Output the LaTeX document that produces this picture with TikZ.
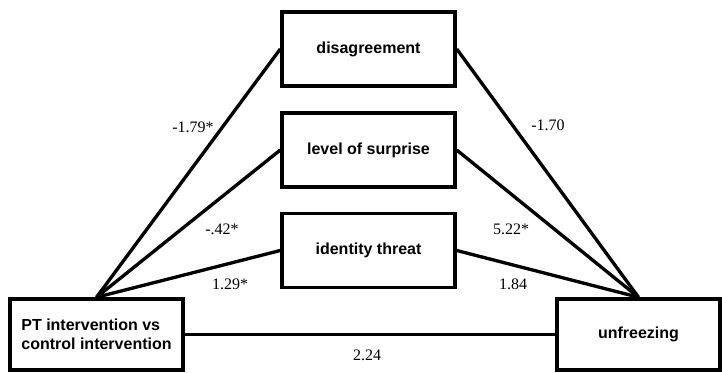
\documentclass[tikz,border=0pt]{standalone}
\usepackage{fontspec}
\setmainfont{Liberation Serif}
\setsansfont{Liberation Sans}
\usepackage{xcolor}

\tikzset{
  varbox/.style={draw, line width=2.6pt, inner sep=0pt, minimum width=129.75pt,
    minimum height=55.5pt, font=\fontsize{12}{14}\selectfont\sffamily\bfseries},
  path/.style={line width=2.5pt},
  coef/.style={font=\fontsize{12}{14}\selectfont, inner sep=0pt}
}

\begin{document}
\begin{tikzpicture}[x=0.75pt,y=-0.75pt]
\useasboundingbox (0,0) rectangle (722,372);

% variables
\node[varbox] (dis) at (368.5,49) {disagreement};
\node[varbox] (sur) at (368.5,150) {level of surprise};
\node[varbox] (idt) at (368.5,250.5) {identity threat};
\node[varbox, minimum height=53.25pt, align=left] (pt) at (96.5,334.5)
  {PT intervention vs\\control intervention};
\node[varbox, minimum width=122.25pt, minimum height=53.25pt] (unf) at (638.5,334.5) {unfreezing};

% paths
\draw[path] (pt.north) -- (dis.west);
\draw[path] (pt.north) -- (sur.west);
\draw[path] (pt.north) -- (idt.west);
\draw[path] (dis.east) -- (unf.north);
\draw[path] (sur.east) -- (unf.north);
\draw[path] (idt.east) -- (unf.north);
\draw[path] (pt.east) -- (unf.west);

% coefficients
\node[coef] (a1) at (193,127) {-1.79*};
\node[coef] (a2) at (222,229) {-.42*};
\node[coef] (a3) at (230,284) {1.29*};
\node[coef] (b1) at (548,125) {-1.70};
\node[coef] (b2) at (511,229) {5.22*};
\node[coef] (b3) at (513,284) {1.84};
\node[coef] (c) at (367,355) {2.24};
\end{tikzpicture}
\end{document}
